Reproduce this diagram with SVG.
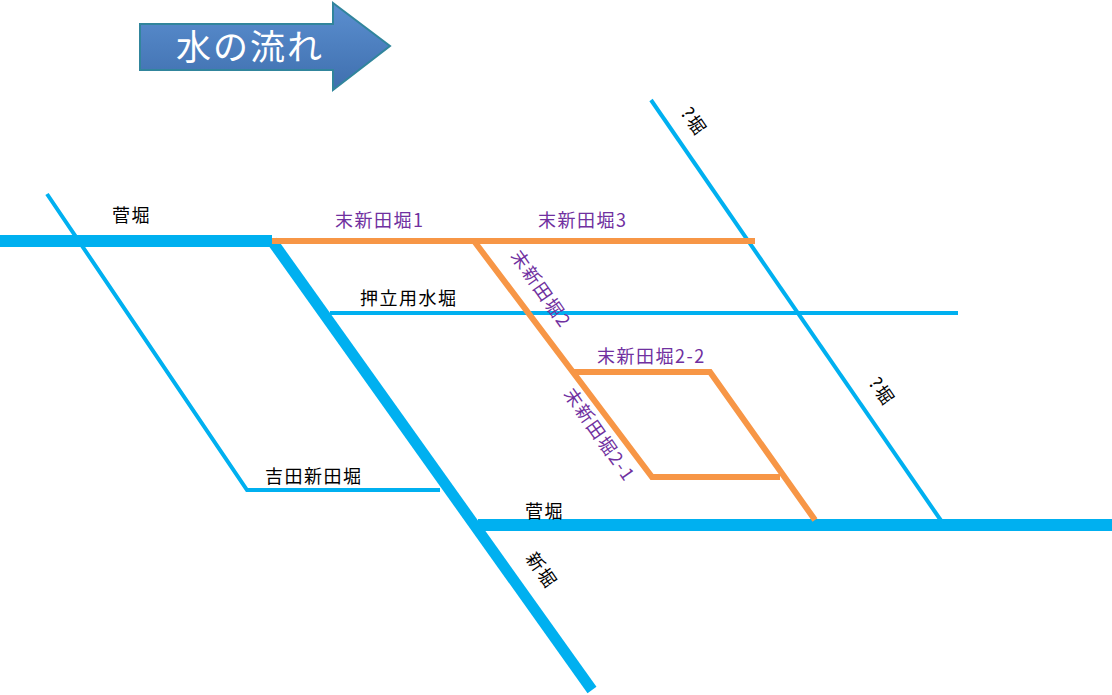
<svg xmlns="http://www.w3.org/2000/svg" width="1112" height="695" viewBox="0 0 1112 695">
<style>
.b{stroke:#00b0f0;fill:none}
.o{stroke:#f79646;fill:none;stroke-width:6}
text{font-family:"Noto Sans CJK JP","Liberation Sans",sans-serif;font-size:18px;letter-spacing:1.5px}
.p{fill:#7030a0}
.k{fill:#000}
</style>
<defs><linearGradient id="g" x1="0" y1="0" x2="0" y2="1"><stop offset="0" stop-color="#5b8fd0"/><stop offset="1" stop-color="#3f6fae"/></linearGradient></defs>
<rect width="1112" height="695" fill="#fff"/>
<g id="arrow">
<polygon points="140,24 333,24 333,3 390,46 333,90 333,70 140,70" fill="url(#g)" stroke="#31859c" stroke-width="2"/>
<text x="176" y="60" style="font-size:35px;fill:#fff;letter-spacing:2px">水の流れ</text>
</g>
<g id="connectors">
<line class="b" x1="0" y1="241" x2="272" y2="241" stroke-width="12"/>
<polyline class="b" points="47,194 247,490 440,490" stroke-width="4"/>
<line class="b" x1="272" y1="241" x2="592" y2="690" stroke-width="11"/>
<line class="b" x1="478" y1="525" x2="1112" y2="525" stroke-width="12"/>
<line class="b" x1="330" y1="313" x2="958" y2="313" stroke-width="4"/>
<line class="b" x1="651" y1="100" x2="942" y2="522" stroke-width="4"/>
<line class="o" x1="272" y1="241" x2="755" y2="241"/>
<polyline class="o" points="474,241 652,477 780,477"/>
<polyline class="o" points="572,372 710,372 815,520"/>
</g>
<g id="labels">
<text class="k" x="112" y="222">菅堀</text>
<text class="p" x="335" y="227">末新田堀1</text>
<text class="p" x="538" y="227">末新田堀3</text>
<text class="k" x="360" y="305">押立用水堀</text>
<text class="p" x="597" y="363">末新田堀2-2</text>
<text class="k" x="265" y="483">吉田新田堀</text>
<text class="k" x="525" y="518">菅堀</text>
<text class="p" transform="translate(510,256) rotate(55)">末新田堀2</text>
<text class="p" transform="translate(563,394) rotate(55)">末新田堀2-1</text>
<text class="k" transform="translate(680,113) rotate(55)">?堀</text>
<text class="k" transform="translate(868,383) rotate(55)">?堀</text>
<text class="k" transform="translate(525,558) rotate(55)">新堀</text>
</g>
</svg>
